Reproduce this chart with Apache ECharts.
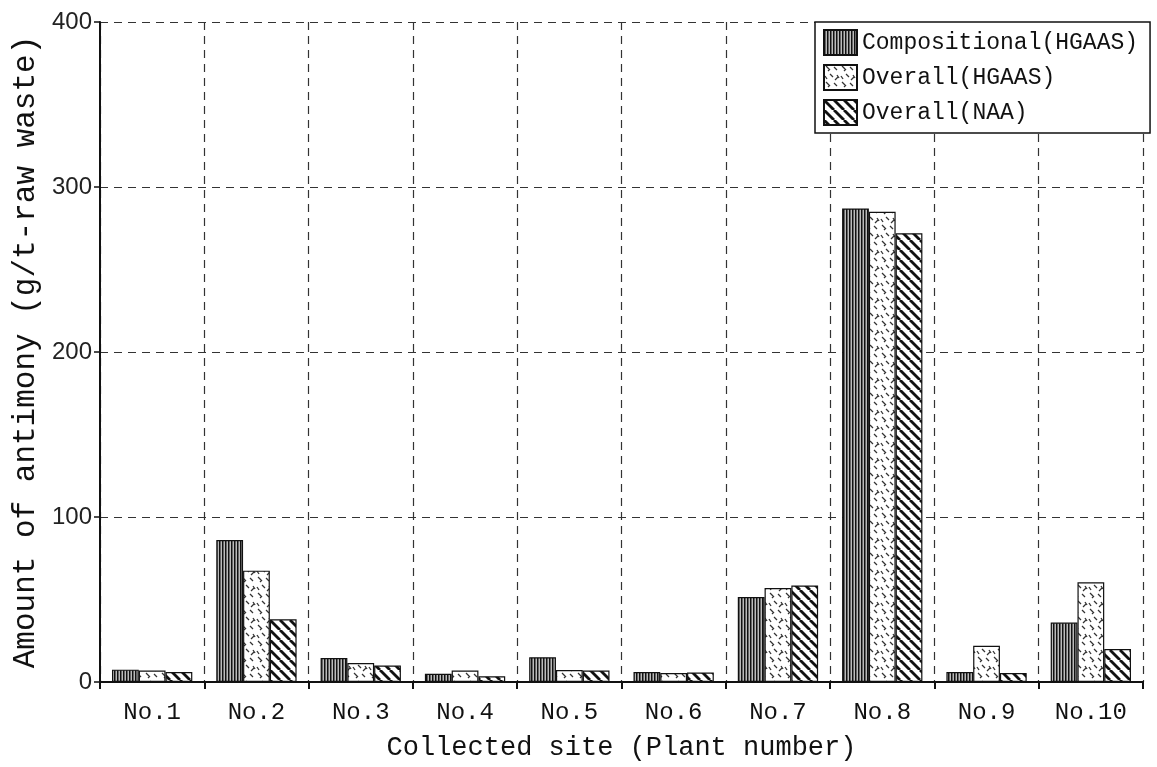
<!DOCTYPE html>
<html lang="en">
<head>
    <meta charset="UTF-8">
    <title>Antimony by plant</title>
    <script src="https://cdn.jsdelivr.net/npm/echarts@6/dist/echarts.min.js"></script>
    <style>
        body {
            margin: 0;
            padding: 0;
            background-color: #fff;
        }
        #main {
            width: 1157px;
            height: 767px;
        }
    </style>
</head>
<body>
<div id="main"></div>

<script>
    // data
    const sites = ['No.1', 'No.2', 'No.3', 'No.4', 'No.5', 'No.6', 'No.7', 'No.8', 'No.9', 'No.10'];
    const compositionalHgaas = [7.5, 86, 14.5, 5, 15, 6, 51.5, 287, 6, 36];
    const overallHgaas = [7, 67.5, 11.5, 7, 7.3, 5.5, 57, 285, 22, 60.5];
    const overallNaa = [6, 38, 10, 3.5, 7, 5.8, 58.5, 272, 5.5, 20];
    const yTicks = [0, 100, 200, 300, 400];

    const font = "'Liberation Mono', 'DejaVu Sans Mono', monospace";

    // hatch fills
    function makeTile(w, h, draw) {
        const c = document.createElement('canvas');
        c.width = w;
        c.height = h;
        const ctx = c.getContext('2d');
        ctx.fillStyle = '#fff';
        ctx.fillRect(0, 0, w, h);
        draw(ctx);
        return c;
    }

    const verticalLines = makeTile(3, 4, ctx => {
        ctx.fillStyle = '#111';
        ctx.fillRect(0, 0, 1, 4);
        ctx.fillStyle = '#666';
        ctx.fillRect(1, 0, 1, 4);
        ctx.fillStyle = '#bbb';
        ctx.fillRect(2, 0, 1, 4);
    });

    const dashes = makeTile(16, 16, ctx => {
        ctx.strokeStyle = '#333';
        ctx.lineWidth = 1.3;
        const marks = [
            [2, 1, 5, 4], [10, 2, 13, 5], [6, 9, 9, 12], [13, 10, 15, 13],
            [1, 11, 3, 14], [4, 6, 6, 4], [11, 15, 14, 12]
        ];
        marks.forEach(m => {
            ctx.beginPath();
            ctx.moveTo(m[0], m[1]);
            ctx.lineTo(m[2], m[3]);
            ctx.stroke();
        });
    });

    const diagonal = makeTile(10, 10, ctx => {
        ctx.strokeStyle = '#111';
        ctx.lineWidth = 2.8;
        [-10, 0, 10].forEach(o => {
            ctx.beginPath();
            ctx.moveTo(o, 0);
            ctx.lineTo(o + 10, 10);
            ctx.stroke();
        });
    });

    function barSeries(name, data, tile) {
        return {
            name: name,
            type: 'bar',
            data: data,
            barGap: '0%',
            barCategoryGap: '23%',
            itemStyle: {
                color: { image: tile, repeat: 'repeat' },
                borderColor: '#111',
                borderWidth: 1.2
            }
        };
    }

    const myChart = echarts.init(document.getElementById('main'));

    const option = {
        backgroundColor: '#fff',
        animation: false,
        grid: {
            left: 100,
            right: 14,
            top: 22,
            bottom: 85,
            containLabel: false,
            outerBoundsMode: 'none'
        },
        legend: {
            orient: 'vertical',
            left: 815,
            top: 22,
            padding: [7, 12, 7, 8],
            itemGap: 8,
            itemWidth: 33,
            itemHeight: 25,
            icon: 'rect',
            borderColor: '#111',
            borderWidth: 1.5,
            backgroundColor: '#fff',
            textStyle: {
                fontFamily: font,
                fontSize: 23,
                color: '#111'
            },
            data: ['Compositional(HGAAS)', 'Overall(HGAAS)', 'Overall(NAA)']
        },
        xAxis: {
            type: 'category',
            data: sites,
            name: 'Collected site (Plant number)',
            nameLocation: 'middle',
            nameGap: 52,
            nameTextStyle: {
                fontFamily: font,
                fontSize: 27,
                color: '#111'
            },
            axisLine: { lineStyle: { color: '#111', width: 2 } },
            axisTick: { show: true, length: 7, lineStyle: { color: '#111', width: 2 } },
            axisLabel: {
                fontFamily: font,
                fontSize: 24,
                color: '#111',
                margin: 19
            },
            splitLine: {
                show: true,
                lineStyle: { color: '#333', type: [8, 6], width: 1.2 }
            }
        },
        yAxis: {
            type: 'value',
            min: yTicks[0],
            max: yTicks[yTicks.length - 1],
            interval: 100,
            name: 'Amount of antimony (g/t-raw waste)',
            nameLocation: 'middle',
            nameGap: 56,
            nameTextStyle: {
                fontFamily: font,
                fontSize: 31,
                color: '#111'
            },
            axisLine: { show: true, lineStyle: { color: '#111', width: 2 } },
            axisTick: { show: true, length: 6, lineStyle: { color: '#111', width: 1.5 } },
            axisLabel: {
                fontFamily: "'Liberation Sans', Arial, sans-serif",
                fontSize: 24,
                color: '#222',
                margin: 8
            },
            splitLine: {
                show: true,
                lineStyle: { color: '#333', type: [8, 6], width: 1.2 }
            }
        },
        series: [
            barSeries('Compositional(HGAAS)', compositionalHgaas, verticalLines),
            barSeries('Overall(HGAAS)', overallHgaas, dashes),
            barSeries('Overall(NAA)', overallNaa, diagonal)
        ]
    };

    myChart.setOption(option);
</script>

</body>
</html>
